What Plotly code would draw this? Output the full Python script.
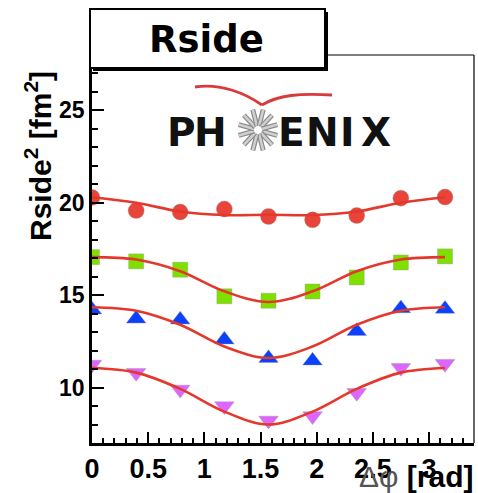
import math
import plotly.graph_objects as go

# ---------------- data ----------------
phi = [0.0, 0.393, 0.785, 1.178, 1.571, 1.963, 2.356, 2.749, 3.142]

red_y = [20.29, 19.58, 19.50, 19.66, 19.26, 19.08, 19.31, 20.25, 20.31]
green_y = [17.06, 16.83, 16.38, 14.94, 14.70, 15.20, 15.96, 16.77, 17.10]
blue_y = [14.21, 13.72, 13.67, 12.59, 11.59, 11.45, 13.05, 14.28, 14.25]
magenta_y = [11.25, 10.80, 9.90, 9.00, 8.22, 8.46, 9.72, 11.07, 11.29]

# fit curves, read at the same phi positions
red_fit = [20.30, 20.00, 19.53, 19.34, 19.35, 19.34, 19.53, 20.00, 20.30]
green_fit = [17.06, 16.93, 16.30, 15.21, 14.63, 15.21, 16.30, 16.93, 17.06]
blue_fit = [14.35, 14.16, 13.40, 12.22, 11.60, 12.22, 13.40, 14.16, 14.35]
magenta_fit = [11.06, 10.81, 9.93, 8.70, 8.00, 8.70, 9.93, 10.81, 11.06]

x_range = [0, 3.4]
y_range = [7, 28]

# ---------------- geometry ----------------
W, H = 478, 493
ML, MR, MT, MB = 92, 4, 55, 50
PW, PH = W - ML - MR, H - MT - MB


def px(x):
    return (x - ML) / PW


def py(y):
    return (H - MB - y) / PH


FONT = "Liberation Sans"
HEAVY = "DejaVu Sans"
LINE_RED = "#e4382c"

fig = go.Figure()

series = [
    (red_y, "circle", "#e8443a", 16),
    (green_y, "square", "#7fe000", 15),
    (blue_y, "triangle-up", "#0a40ff", 17),
    (magenta_y, "triangle-down", "#dd66ff", 17),
]
for ys, sym, col, sz in series:
    fig.add_trace(go.Scatter(
        x=phi, y=ys, mode="markers",
        marker=dict(symbol=sym, size=sz, color=col,
                    line=dict(width=0.8, color="rgba(150,150,150,0.5)")),
        showlegend=False, hoverinfo="skip"))

for fy in [red_fit, green_fit, blue_fit, magenta_fit]:
    fig.add_trace(go.Scatter(
        x=phi, y=fy, mode="lines",
        line=dict(color=LINE_RED, width=2.6, shape="spline", smoothing=1.0),
        showlegend=False, hoverinfo="skip"))

shapes = []
# thin top/right frame
shapes.append(dict(type="line", xref="paper", yref="paper", x0=0, x1=1, y0=1, y1=1,
                   line=dict(color="black", width=1.2)))
shapes.append(dict(type="line", xref="paper", yref="paper", x0=1, x1=1, y0=0, y1=1,
                   line=dict(color="black", width=1.2)))

# title box with shadow
bx0, bx1, by0, by1 = 90, 325, 9, 68
shapes.append(dict(type="rect", xref="paper", yref="paper",
                   x0=px(bx0 + 3), x1=px(bx1 + 3), y0=py(by1 + 3), y1=py(by0 + 3),
                   fillcolor="black", line=dict(width=0)))
shapes.append(dict(type="rect", xref="paper", yref="paper",
                   x0=px(bx0), x1=px(bx1), y0=py(by1), y1=py(by0),
                   fillcolor="white", line=dict(color="black", width=2)))

# PHENIX logo: star
cx, cy = 258, 130
for k in range(12):
    a = k * math.pi / 6 + math.pi / 12
    for wdt, colr in [(5, "#8a8a8a"), (2.6, "#cfcfcf")]:
        shapes.append(dict(type="line", xref="paper", yref="paper",
                           x0=px(cx + 4 * math.cos(a)), y0=py(cy + 4 * math.sin(a)),
                           x1=px(cx + 20 * math.cos(a)), y1=py(cy + 21 * math.sin(a)),
                           line=dict(color=colr, width=wdt)))

# PHENIX logo: red swoosh
pts_l = [(195, 87), (220, 83), (245, 93), (262, 105)]
pts_r = [(262, 105), (278, 95), (300, 93), (332, 95)]


def cpath(p):
    s = "M %f,%f" % (px(p[0][0]), py(p[0][1]))
    s += " C %f,%f %f,%f %f,%f" % (px(p[1][0]), py(p[1][1]), px(p[2][0]), py(p[2][1]),
                                    px(p[3][0]), py(p[3][1]))
    return s


shapes.append(dict(type="path", xref="paper", yref="paper", path=cpath(pts_l),
                   line=dict(color="#d83a3a", width=2.8)))
shapes.append(dict(type="path", xref="paper", yref="paper", path=cpath(pts_r),
                   line=dict(color="#d83a3a", width=2.8)))

annotations = [
    dict(text="<b>Rside</b>", xref="paper", yref="paper", x=px(206), y=py(40),
         xanchor="center", yanchor="middle", showarrow=False,
         font=dict(family=HEAVY, size=37, color="black")),
    dict(text="<b>Rside<sup>2</sup> [fm<sup>2</sup>]</b>", xref="paper", yref="paper",
         x=px(38), y=py(156), xanchor="center", yanchor="middle", textangle=-90,
         showarrow=False, font=dict(family=FONT, size=30, color="black")),
    dict(text="<span style='color:#555'>Δφ</span> <b>[rad]</b>", xref="paper", yref="paper",
         x=px(476), y=py(477), xanchor="right", yanchor="middle", showarrow=False,
         font=dict(family=FONT, size=30, color="black")),
]
for ch, xc in [("P", 181), ("H", 210), ("E", 291), ("N", 322), ("I", 347), ("X", 376)]:
    annotations.append(dict(text="<b>%s</b>" % ch, xref="paper", yref="paper",
                            x=px(xc), y=py(132), xanchor="center", yanchor="middle",
                            showarrow=False,
                            font=dict(family=HEAVY, size=39, color="#111")))

fig.update_layout(
    width=W, height=H, autosize=False,
    margin=dict(l=ML, r=MR, t=MT, b=MB),
    paper_bgcolor="white", plot_bgcolor="white",
    shapes=shapes, annotations=annotations,
    xaxis=dict(range=x_range, showgrid=False, zeroline=False,
               showline=True, linecolor="black", linewidth=2.5,
               ticks="inside", ticklen=11, tickwidth=2, tickcolor="black",
               tickmode="array", tickvals=[0, 0.5, 1, 1.5, 2, 2.5, 3],
               ticktext=["0", "0.5", "1", "1.5", "2", "2.5", "3"],
               tickfont=dict(family=FONT, size=27, color="black", weight="bold"),
               minor=dict(ticks="inside", dtick=0.1, tick0=0, ticklen=5, tickwidth=1.5,
                          tickcolor="black"),
               ),
    yaxis=dict(range=y_range, showgrid=False, zeroline=False,
               showline=True, linecolor="black", linewidth=2.5,
               ticks="inside", ticklen=12, tickwidth=2, tickcolor="black",
               tickmode="array", tickvals=[10, 15, 20, 25],
               tickfont=dict(family=FONT, size=23, color="black", weight="bold"),
               minor=dict(ticks="inside", dtick=1, tick0=0, ticklen=6, tickwidth=1.5,
                          tickcolor="black"),
               ),
)

fig.write_html("out.html", config={"displayModeBar": False},
               post_script="document.body.style.margin='0';document.body.style.overflow='hidden';")
